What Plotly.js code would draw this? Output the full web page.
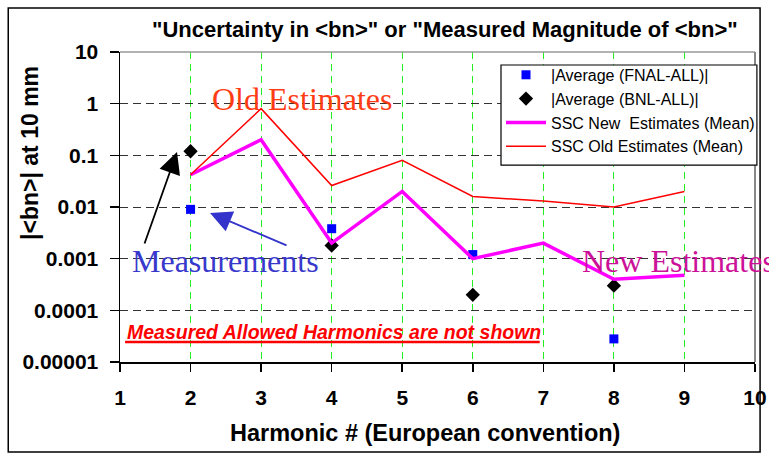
<!DOCTYPE html>
<html>
<head>
<meta charset="utf-8">
<script src="https://cdn.plot.ly/plotly-3.0.1.min.js"></script>
<style>html,body{margin:0;padding:0;background:#fff;}#chart{width:769px;height:455px;}</style>
</head>
<body>
<div id="chart"></div>
<script>
// Harmonic numbers
var harmonicsFNAL = [2, 4, 6, 8];
var fnalAvg = [0.009, 0.0038, 0.0012, 0.000028];
var harmonicsBNL = [2, 4, 6, 8];
var bnlAvg = [0.12, 0.0018, 0.0002, 0.0003];
var harmonicsSSC = [2, 3, 4, 5, 6, 7, 8, 9];
var sscNew = [0.042, 0.2, 0.002, 0.02, 0.001, 0.002, 0.0004, 0.00048];
var sscOld = [0.042, 0.8, 0.026, 0.08, 0.016, 0.013, 0.01, 0.02];
var xTicks = [1, 2, 3, 4, 5, 6, 7, 8, 9, 10];
var yTickVals = [10, 1, 0.1, 0.01, 0.001, 0.0001, 0.00001];
var yTickText = ["10", "1", "0.1", "0.01", "0.001", "0.0001", "0.00001"];

var traces = [
  {x: harmonicsFNAL, y: fnalAvg, name: "|Average (FNAL-ALL)|", mode: "markers", type: "scatter",
   marker: {symbol: "square", color: "#0000ff", size: 9}},
  {x: harmonicsBNL, y: bnlAvg, name: "|Average (BNL-ALL)|", mode: "markers", type: "scatter",
   marker: {symbol: "diamond", color: "#000000", size: 11}},
  {x: harmonicsSSC, y: sscNew, name: "SSC New  Estimates (Mean)", mode: "lines", type: "scatter",
   line: {color: "#ff00ff", width: 3.5}},
  {x: harmonicsSSC, y: sscOld, name: "SSC Old Estimates (Mean)", mode: "lines", type: "scatter",
   line: {color: "#ff0000", width: 1.5}}
];

var sans = "Liberation Sans, Arial, sans-serif";
var serif = "Liberation Serif, Times New Roman, serif";

var layout = {
  width: 769, height: 455,
  margin: {l: 120, r: 14, t: 52, b: 93, autoexpand: false},
  paper_bgcolor: "#fff", plot_bgcolor: "#fff",
  showlegend: true,
  legend: {x: 0.6, y: 0.981, xanchor: "left", yanchor: "top", bgcolor: "rgba(0,0,0,0)",
    borderwidth: 0, itemwidth: 40,
    font: {family: sans, size: 16, color: "#000"}},
  xaxis: {range: [1, 10], tickvals: xTicks, showline: true, linecolor: "#000", linewidth: 1.5,
    ticks: "outside", ticklen: 8, tickcolor: "#000", tickwidth: 1.5, automargin: false,
    showgrid: true, gridcolor: "#22ee22", griddash: "7px,5px", gridwidth: 1, zeroline: false,
    tickfont: {family: sans, size: 21, color: "#000", weight: "bold"},
    ticklabelstandoff: 8},
  yaxis: {type: "log", range: [-5, 1], tickvals: yTickVals, ticktext: yTickText,
    showline: true, linecolor: "#000", linewidth: 1.5, automargin: false,
    ticks: "outside", ticklen: 9, tickcolor: "#000", tickwidth: 1.5,
    showgrid: true, gridcolor: "#333", griddash: "8px,5px", gridwidth: 1, zeroline: false,
    tickfont: {family: sans, size: 21, color: "#000", weight: "bold"},
    ticklabelstandoff: 7},
  shapes: [
    {type: "line", xref: "paper", yref: "paper", x0: 0, x1: 1, y0: 1, y1: 1, line: {color: "#999", width: 1.5}},
    {type: "line", xref: "paper", yref: "paper", x0: 1, x1: 1, y0: 0, y1: 1, line: {color: "#888", width: 2}},
    {type: "rect", xref: "paper", yref: "paper", x0: -0.176, x1: 1.008, y0: -0.29, y1: 1.142,
      line: {color: "#000", width: 1.5}},
    {type: "rect", xref: "paper", yref: "paper", x0: 0.6, x1: 1.003, y0: 0.635, y1: 0.958,
      fillcolor: "#fff", layer: "above", line: {color: "#000", width: 1.2}},
    {type: "line", xref: "paper", yref: "paper", x0: 0.008, x1: 0.661, y0: 0.0645, y1: 0.0645,
      line: {color: "#ff0000", width: 2.5}}
  ],
  annotations: [
    {text: "<b>\"Uncertainty in &lt;bn&gt;\" or \"Measured Magnitude of &lt;bn&gt;\"</b>", xref: "paper", yref: "paper",
      x: 0.512, y: 1.071, xanchor: "center", yanchor: "middle", showarrow: false,
      font: {family: sans, size: 22, color: "#000"}},
    {text: "<b>|&lt;bn&gt;| at 10 mm</b>", xref: "paper", yref: "paper", x: -0.142, y: 0.674, textangle: -90,
      xanchor: "center", yanchor: "middle", showarrow: false, font: {family: sans, size: 23, color: "#000"}},
    {text: "<b>Harmonic # (European convention)</b>", xref: "paper", yref: "paper", x: 0.48, y: -0.229,
      xanchor: "center", yanchor: "middle", showarrow: false, font: {family: sans, size: 23.5, color: "#000"}},
    {text: "Old Estimates", xref: "paper", yref: "paper", x: 0.2866, y: 0.848, xanchor: "center", yanchor: "middle",
      showarrow: false, font: {family: serif, size: 32, color: "#ff3c14"}},
    {text: "Measurements", xref: "paper", yref: "paper", x: 0.166, y: 0.325, xanchor: "center", yanchor: "middle",
      showarrow: false, font: {family: serif, size: 32, color: "#3838cc"}},
    {text: "New Estimates", xref: "paper", yref: "paper", x: 0.724, y: 0.325, xanchor: "left", yanchor: "middle",
      showarrow: false, font: {family: serif, size: 32, color: "#cc1199"}},
    {text: "<b><i>Measured Allowed Harmonics are not shown</i></b>", xref: "paper", yref: "paper",
      x: 0.008, y: 0.097, xanchor: "left", yanchor: "middle", showarrow: false,
      font: {family: sans, size: 19.5, color: "#ff0000"}},
    {text: "", x: 1.808, y: -0.935, xref: "x", yref: "y", showarrow: true, ax: -33, ay: 93,
      arrowhead: 2, arrowsize: 2.4, arrowwidth: 1.8, arrowcolor: "#000"},
    {text: "", x: 2.276, y: -2.116, xref: "x", yref: "y", showarrow: true, ax: 78, ay: 33,
      arrowhead: 2, arrowsize: 2.4, arrowwidth: 1.8, arrowcolor: "#3333cc"}
  ]
};

Plotly.newPlot("chart", traces, layout, {displayModeBar: false, staticPlot: true});
</script>
</body>
</html>
